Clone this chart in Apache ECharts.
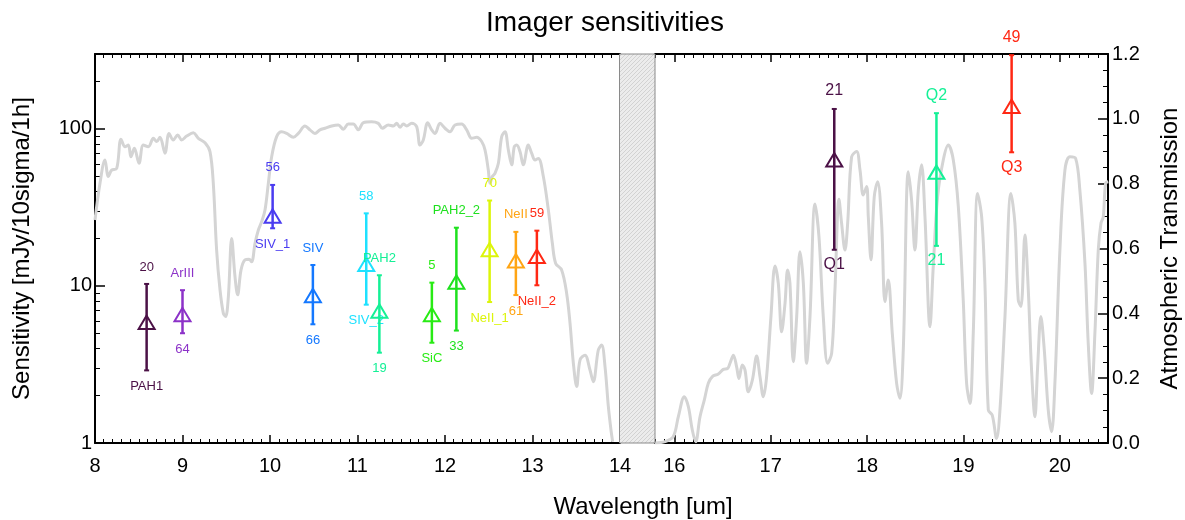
<!DOCTYPE html>
<html>
<head>
<meta charset="utf-8">
<script src="https://cdn.jsdelivr.net/npm/echarts@6/dist/echarts.min.js"></script>
<style>html,body{margin:0;padding:0;background:#fff;}#c{width:1185px;height:520px;}</style>
</head>
<body>
<div id="c"></div>
<script>
// ---- Atmospheric transmission curve, 8-14 um panel ----
const leftWl = [8.000,8.057,8.114,8.152,8.190,8.248,8.297,8.343,8.381,8.411,8.450,8.503,8.552,8.610,8.667,8.705,8.743,8.800,8.846,8.895,8.945,8.990,9.048,9.124,9.181,9.257,9.314,9.352,9.390,9.429,9.467,9.493,9.524,9.562,9.600,9.630,9.669,9.714,9.760,9.790,9.829,9.867,9.905,9.943,9.981,10.019,10.076,10.133,10.190,10.267,10.324,10.400,10.457,10.514,10.571,10.629,10.705,10.781,10.838,10.895,10.952,11.010,11.067,11.162,11.238,11.284,11.352,11.410,11.448,11.486,11.524,11.562,11.619,11.676,11.714,11.752,11.802,11.848,11.886,11.943,12.000,12.057,12.114,12.190,12.248,12.305,12.362,12.419,12.457,12.495,12.514,12.541,12.571,12.610,12.648,12.686,12.724,12.762,12.792,12.819,12.857,12.895,12.952,12.990,13.029,13.067,13.124,13.181,13.227,13.265,13.333,13.390,13.429,13.467,13.505,13.543,13.600,13.657,13.695,13.752,13.790,13.829,13.867,13.897,13.916];
const leftTrans = [0.688,0.801,0.873,0.822,0.842,0.847,0.937,0.914,0.919,0.883,0.909,0.863,0.919,0.914,0.940,0.930,0.943,0.894,0.955,0.935,0.950,0.935,0.947,0.957,0.940,0.926,0.899,0.801,0.595,0.472,0.400,0.390,0.451,0.631,0.513,0.457,0.534,0.565,0.567,0.559,0.616,0.657,0.683,0.719,0.801,0.883,0.945,0.960,0.955,0.943,0.955,0.978,0.966,0.955,0.966,0.971,0.978,0.981,0.968,0.984,0.984,0.966,0.988,0.991,0.986,0.971,0.981,0.978,0.986,0.974,0.984,0.978,0.986,0.976,0.919,0.935,0.988,0.966,0.955,0.986,0.971,0.960,0.981,0.984,0.966,0.940,0.943,0.930,0.904,0.842,0.801,0.822,0.832,0.863,0.945,0.960,0.904,0.858,0.914,0.919,0.899,0.858,0.919,0.894,0.873,0.878,0.822,0.719,0.616,0.554,0.534,0.462,0.369,0.246,0.174,0.256,0.271,0.225,0.189,0.287,0.302,0.235,0.112,0.040,0.004];

// ---- Atmospheric transmission curve, 16-20.5 um panel ----
const rightWl = [15.800,15.904,15.990,16.042,16.104,16.146,16.187,16.222,16.267,16.312,16.353,16.395,16.457,16.509,16.554,16.578,16.613,16.647,16.671,16.706,16.734,16.768,16.810,16.855,16.889,16.924,16.958,17.003,17.045,17.079,17.114,17.149,17.176,17.200,17.235,17.270,17.304,17.339,17.373,17.408,17.460,17.501,17.546,17.591,17.633,17.667,17.709,17.736,17.771,17.799,17.840,17.892,17.927,17.961,17.996,18.013,18.041,18.075,18.110,18.151,18.186,18.220,18.262,18.307,18.341,18.376,18.428,18.462,18.497,18.532,18.566,18.601,18.653,18.687,18.732,18.791,18.843,18.895,18.947,18.998,19.033,19.068,19.102,19.147,19.189,19.223,19.258,19.299,19.344,19.379,19.431,19.493,19.534,19.569,19.597,19.638,19.673,19.707,19.742,19.770,19.804,19.839,19.880,19.915,19.949,20.001,20.053,20.105,20.164,20.208,20.261,20.295,20.330,20.364,20.399,20.427,20.451,20.475,20.503];
const rightTrans = [0.000,0.004,0.020,0.081,0.143,0.112,0.040,0.004,0.081,0.133,0.184,0.205,0.213,0.227,0.230,0.246,0.271,0.235,0.199,0.241,0.225,0.158,0.194,0.268,0.205,0.143,0.205,0.390,0.546,0.493,0.343,0.431,0.534,0.493,0.251,0.390,0.590,0.493,0.246,0.390,0.737,0.637,0.390,0.246,0.277,0.472,0.752,0.678,0.595,0.678,0.883,0.899,0.842,0.765,0.791,0.698,0.565,0.760,0.806,0.678,0.436,0.503,0.338,0.184,0.138,0.287,0.837,0.750,0.595,0.780,0.858,0.698,0.359,0.544,0.760,0.873,0.919,0.873,0.729,0.441,0.184,0.122,0.338,0.770,0.698,0.493,0.102,0.086,0.014,0.102,0.390,0.770,0.678,0.441,0.421,0.642,0.472,0.225,0.081,0.235,0.390,0.287,0.102,0.035,0.184,0.595,0.842,0.883,0.878,0.780,0.554,0.307,0.153,0.338,0.595,0.678,0.698,0.801,0.806];

// ---- Filter sensitivities ----
const ptNames       = ['PAH1','ArIII','SIV_1','SIV','SIV_2','PAH2','SiC','PAH2_2','NeII_1','NeII','NeII_2','Q1','Q2','Q3'];
const ptWavelength  = [8.59, 9.00, 10.03, 10.49, 11.10, 11.25, 11.85, 12.13, 12.51, 12.81, 13.05, 17.66, 18.72, 19.50];
const ptSensitivity = [5.8, 6.5, 27.6, 8.6, 13.6, 6.85, 6.5, 10.5, 16.9, 14.3, 15.3, 63, 52.5, 138];
const ptErrLow      = [2.9, 5.0, 23.3, 5.7, 7.6, 3.76, 4.35, 5.2, 7.9, 8.75, 10.1, 17, 18, 71];
const ptErrHigh     = [10.3, 9.4, 44, 13.6, 29, 11.7, 10.5, 23.5, 35, 22.1, 22.5, 134, 126, 295];
const ptLabelAbove  = ['20','ArIII','56','SIV','58','PAH2','5','PAH2_2','70','NeII','59','21','Q2','49'];
const ptLabelBelow  = ['PAH1','64','SIV_1','66','SIV_2','19','SiC','33','NeII_1','61','NeII_2','Q1','21','Q3'];
const ptColors      = ['#4b1146','#8c32c8','#4a3cf0','#1478ff','#1ee1ff','#14f096','#28eb14','#1ee11e','#dcf50a','#ffa514','#ff2814','#4b1146','#14f096','#ff2814'];
const ptPanel       = [0,0,0,0,0,0,0,0,0,0,0,1,1,1];

// ---- Axis tick values ----
const xTicksLeft = [8,9,10,11,12,13,14];
const xTicksRight = [16,17,18,19,20];
const yMajor = [1,10,100];
const yMinor = [2,3,4,5,6,7,8,9,20,30,40,50,60,70,80,90,200];
const xMinorRight = [];
for (let i = 158; i <= 205; i++) { if (i % 10 !== 0) xMinorRight.push(i / 10); }

const FONT = "'Liberation Sans', Helvetica, Arial, sans-serif";
const GL = {left: 95, top: 54, width: 525, height: 389};
const GR = {left: 655, top: 54, width: 453, height: 389};

function zip(a, b) { return a.map((v, i) => [v, b[i]]); }
function pointsFor(panel) {
  const out = [];
  ptPanel.forEach((p, i) => { if (p === panel) out.push([ptWavelength[i], ptSensitivity[i], ptErrLow[i], ptErrHigh[i], i]); });
  return out;
}
function makeRenderer(topOff, botOff, fontSize) {
  return function (params, api) {
    const k = api.value(4);
    const c = ptColors[k];
    const p = api.coord([api.value(0), api.value(1)]);
    const lo = api.coord([api.value(0), api.value(2)]);
    const hi = api.coord([api.value(0), api.value(3)]);
    const cx = p[0], cy = p[1];
    return {
      type: 'group',
      children: [
        {type: 'line', shape: {x1: cx, y1: hi[1], x2: cx, y2: lo[1]}, style: {stroke: c, lineWidth: 2.5}},
        {type: 'line', shape: {x1: cx - 2.5, y1: hi[1], x2: cx + 2.5, y2: hi[1]}, style: {stroke: c, lineWidth: 2}},
        {type: 'line', shape: {x1: cx - 2.5, y1: lo[1], x2: cx + 2.5, y2: lo[1]}, style: {stroke: c, lineWidth: 2}},
        {type: 'polygon', shape: {points: [[cx, cy - 7.5], [cx - 8, cy + 6], [cx + 8, cy + 6]]}, style: {fill: 'none', stroke: c, lineWidth: 2}},
        {type: 'text', x: cx, y: hi[1] - topOff, style: {text: ptLabelAbove[k], fill: c, fontSize: fontSize, fontFamily: FONT, align: 'center', verticalAlign: 'middle'}},
        {type: 'text', x: cx, y: lo[1] + botOff, style: {text: ptLabelBelow[k], fill: c, fontSize: fontSize, fontFamily: FONT, align: 'center', verticalAlign: 'middle'}}
      ]
    };
  };
}

// fine hatch pattern for the wavelength gap
const pc = document.createElement('canvas');
pc.width = 4; pc.height = 4;
const pctx = pc.getContext('2d');
pctx.fillStyle = '#ececec'; pctx.fillRect(0, 0, 4, 4);
pctx.fillStyle = '#d2d2d2';
pctx.fillRect(0, 3, 1, 1); pctx.fillRect(1, 2, 1, 1); pctx.fillRect(2, 1, 1, 1); pctx.fillRect(3, 0, 1, 1);

const axLine = {show: true, onZero: false, lineStyle: {color: '#000', width: 2}};
const lbl = {color: '#000', fontSize: 20, fontFamily: FONT};

const option = {
  backgroundColor: '#fff',
  animation: false,
  title: {
    text: 'Imager sensitivities', left: 600, top: 4, textAlign: 'center',
    textStyle: {fontSize: 28, fontWeight: 'normal', color: '#000', fontFamily: FONT}
  },
  grid: [
    {left: GL.left, top: GL.top, width: GL.width, height: GL.height},
    {left: GR.left, top: GR.top, width: GR.width, height: GR.height}
  ],
  xAxis: [
    {gridIndex: 0, type: 'value', min: 8, max: 14, interval: 1, position: 'bottom',
     axisLine: axLine, splitLine: {show: false},
     axisTick: {inside: true, length: 8, lineStyle: {color: '#000', width: 1.5}},
     minorTick: {show: true, splitNumber: 10, length: 4, lineStyle: {color: '#000', width: 1}},
     axisLabel: Object.assign({margin: 13, customValues: xTicksLeft}, lbl)},
    {gridIndex: 0, type: 'value', min: 8, max: 14, interval: 1, position: 'top',
     axisLine: axLine, splitLine: {show: false},
     axisTick: {inside: true, length: 8, lineStyle: {color: '#000', width: 1.5}},
     minorTick: {show: true, splitNumber: 10, length: 4, lineStyle: {color: '#000', width: 1}},
     axisLabel: {show: false}},
    {gridIndex: 1, type: 'value', min: 15.8, max: 20.5, position: 'bottom',
     axisLine: axLine, splitLine: {show: false},
     axisTick: {inside: true, length: 8, customValues: xTicksRight, lineStyle: {color: '#000', width: 1.5}},
     axisLabel: Object.assign({margin: 13, customValues: xTicksRight}, lbl)},
    {gridIndex: 1, type: 'value', min: 15.8, max: 20.5, position: 'bottom',
     axisLine: {show: false, onZero: false}, splitLine: {show: false},
     axisTick: {inside: true, length: 4, customValues: xMinorRight, lineStyle: {color: '#000', width: 1}},
     axisLabel: {show: false}},
    {gridIndex: 1, type: 'value', min: 15.8, max: 20.5, position: 'top',
     axisLine: axLine, splitLine: {show: false},
     axisTick: {inside: true, length: 8, customValues: xTicksRight, lineStyle: {color: '#000', width: 1.5}},
     axisLabel: {show: false}},
    {gridIndex: 1, type: 'value', min: 15.8, max: 20.5, position: 'top',
     axisLine: {show: false, onZero: false}, splitLine: {show: false},
     axisTick: {inside: true, length: 4, customValues: xMinorRight, lineStyle: {color: '#000', width: 1}},
     axisLabel: {show: false}}
  ],
  yAxis: [
    {gridIndex: 0, type: 'log', min: 1, max: 300, position: 'left',
     axisLine: axLine, splitLine: {show: false},
     axisTick: {inside: true, length: 10, customValues: yMajor, lineStyle: {color: '#000', width: 1.5}},
     axisLabel: Object.assign({margin: 3, customValues: yMajor}, lbl),
     name: 'Sensitivity [mJy/10sigma/1h]', nameLocation: 'middle', nameGap: 61,
     nameTextStyle: {fontSize: 24, color: '#000', fontFamily: FONT}},
    {gridIndex: 0, type: 'log', min: 1, max: 300, position: 'left',
     axisLine: {show: false, onZero: false}, splitLine: {show: false},
     axisTick: {inside: true, length: 5, customValues: yMinor, lineStyle: {color: '#000', width: 1}},
     axisLabel: {show: false}},
    {gridIndex: 0, type: 'value', min: 0, max: 1.2, show: false, splitLine: {show: false}},
    {gridIndex: 1, type: 'log', min: 1, max: 300, show: false, splitLine: {show: false}},
    {gridIndex: 1, type: 'value', min: 0, max: 1.2, interval: 0.2, position: 'right',
     axisLine: axLine, splitLine: {show: false},
     axisTick: {inside: true, length: 10, lineStyle: {color: '#000', width: 1.5}},
     minorTick: {show: true, splitNumber: 4, length: 5, lineStyle: {color: '#000', width: 1}},
     axisLabel: Object.assign({margin: 4, formatter: v => v.toFixed(1)}, lbl),
     name: 'Atmospheric Transmission', nameLocation: 'middle', nameGap: 50,
     nameTextStyle: {fontSize: 24, color: '#000', fontFamily: FONT}}
  ],
  series: [
    {type: 'line', xAxisIndex: 0, yAxisIndex: 2, data: zip(leftWl, leftTrans), smooth: 0.35,
     showSymbol: false, silent: true, lineStyle: {color: '#d4d4d4', width: 3}, z: 1},
    {type: 'line', xAxisIndex: 2, yAxisIndex: 4, data: zip(rightWl, rightTrans), smooth: 0.35,
     showSymbol: false, silent: true, lineStyle: {color: '#d4d4d4', width: 3}, z: 1},
    {type: 'custom', xAxisIndex: 0, yAxisIndex: 0, data: pointsFor(0), clip: false, z: 5,
     renderItem: makeRenderer(17, 16, 13)},
    {type: 'custom', xAxisIndex: 2, yAxisIndex: 3, data: pointsFor(1), clip: false, z: 5,
     renderItem: makeRenderer(18, 15, 16)}
  ],
  graphic: [
    {type: 'rect', z: 10, shape: {x: GL.left + GL.width - 0.5, y: GL.top, width: GR.left - GL.left - GL.width + 0.5, height: GL.height},
     style: {fill: {image: pc, repeat: 'repeat'}, stroke: '#8a8a8a', lineWidth: 1}},
    {type: 'text', z: 10, x: 643, y: 507,
     style: {text: 'Wavelength [um]', fill: '#000', fontSize: 24, fontFamily: FONT, align: 'center', verticalAlign: 'middle'}}
  ]
};

const chart = echarts.init(document.getElementById('c'), null, {renderer: 'canvas'});
chart.setOption(option);
</script>
</body>
</html>
